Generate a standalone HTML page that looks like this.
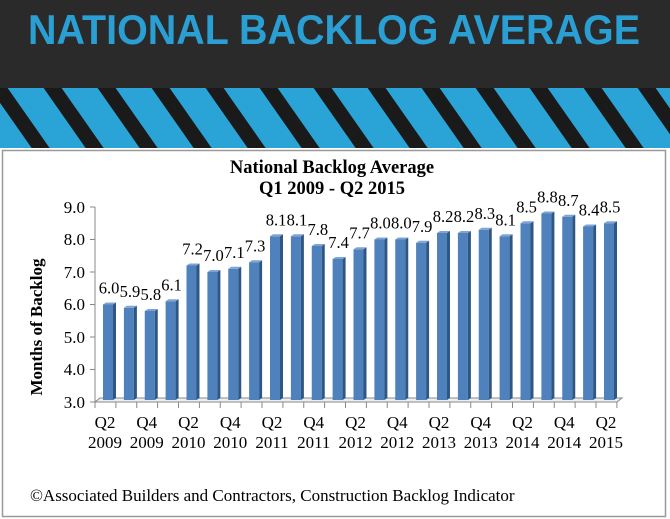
<!DOCTYPE html>
<html><head><meta charset="utf-8"><style>
html,body{margin:0;padding:0;background:#fff;}
</style></head><body>
<svg width="670" height="519" xmlns="http://www.w3.org/2000/svg" style="display:block">
<defs>
<pattern id="st" width="54" height="60" patternUnits="userSpaceOnUse" patternTransform="skewX(35)">
<rect width="54" height="60" fill="#1a1a1a"/>
<rect x="0" y="0" width="36" height="60" fill="#2aa3d6"/>
</pattern>
</defs>
<rect x="0" y="0" width="670" height="148" fill="#2a2a2a"/>
<rect x="0" y="88" width="670" height="60" fill="url(#st)"/>
<text x="334" y="44" text-anchor="middle" font-family="Liberation Sans, sans-serif" font-weight="bold" font-size="42" fill="#2a9fd4" textLength="612" lengthAdjust="spacingAndGlyphs">NATIONAL BACKLOG AVERAGE</text>
<rect x="2.5" y="150.5" width="663" height="366" fill="#fff" stroke="#999" stroke-width="1.5"/>
<g font-family="Liberation Serif, serif" fill="#000">
<text x="332" y="173" text-anchor="middle" font-weight="bold" font-size="18.5">National Backlog Average</text>
<text x="332" y="194" text-anchor="middle" font-weight="bold" font-size="18.5">Q1 2009 - Q2 2015</text>
<text x="30" y="501" font-size="17">©Associated Builders and Contractors, Construction Backlog Indicator</text>
<text transform="translate(42,327) rotate(-90)" text-anchor="middle" font-weight="bold" font-size="17">Months of Backlog</text>
<g font-size="17" text-anchor="end">
<text x="85" y="213">9.0</text><text x="85" y="245">8.0</text><text x="85" y="278">7.0</text><text x="85" y="310">6.0</text><text x="85" y="343">5.0</text><text x="85" y="375">4.0</text><text x="85" y="408">3.0</text>
</g>
</g>
<g stroke="#888" stroke-width="1" fill="none">
<line x1="95" y1="207" x2="95" y2="402"/>
<line x1="90" y1="207" x2="95" y2="207"/><line x1="90" y1="239.5" x2="95" y2="239.5"/><line x1="90" y1="272" x2="95" y2="272"/><line x1="90" y1="304.5" x2="95" y2="304.5"/><line x1="90" y1="337" x2="95" y2="337"/><line x1="90" y1="369.5" x2="95" y2="369.5"/><line x1="90" y1="402" x2="95" y2="402"/>
<path d="M95 402 L100 398 L622 398 L617 402 Z" fill="#eee"/>
<line x1="95" y1="402" x2="617" y2="402"/>
<line x1="95" y1="402" x2="95" y2="408"/><line x1="115.9" y1="402" x2="115.9" y2="408"/><line x1="136.75" y1="402" x2="136.75" y2="408"/><line x1="157.6" y1="402" x2="157.6" y2="408"/><line x1="178.5" y1="402" x2="178.5" y2="408"/><line x1="199.4" y1="402" x2="199.4" y2="408"/><line x1="220.25" y1="402" x2="220.25" y2="408"/><line x1="241.1" y1="402" x2="241.1" y2="408"/><line x1="262" y1="402" x2="262" y2="408"/><line x1="282.9" y1="402" x2="282.9" y2="408"/><line x1="303.75" y1="402" x2="303.75" y2="408"/><line x1="324.6" y1="402" x2="324.6" y2="408"/><line x1="345.5" y1="402" x2="345.5" y2="408"/><line x1="366.4" y1="402" x2="366.4" y2="408"/><line x1="387.25" y1="402" x2="387.25" y2="408"/><line x1="408.1" y1="402" x2="408.1" y2="408"/><line x1="429" y1="402" x2="429" y2="408"/><line x1="449.9" y1="402" x2="449.9" y2="408"/><line x1="470.75" y1="402" x2="470.75" y2="408"/><line x1="491.6" y1="402" x2="491.6" y2="408"/><line x1="512.5" y1="402" x2="512.5" y2="408"/><line x1="533.4" y1="402" x2="533.4" y2="408"/><line x1="554.25" y1="402" x2="554.25" y2="408"/><line x1="575.1" y1="402" x2="575.1" y2="408"/><line x1="596" y1="402" x2="596" y2="408"/><line x1="616.9" y1="402" x2="616.9" y2="408"/>
</g>
<g>
<g transform="translate(103,304.5)"><rect width="10" height="95.5" fill="#4f81bd"/><path d="M10 0 l3 -2 v95.5 l-3 2 z" fill="#2f5783"/><path d="M0 0 l3 -2 h10 l-3 2 z" fill="#7fa3d3"/></g>
<g transform="translate(123.9,307.75)"><rect width="10" height="92.25" fill="#4f81bd"/><path d="M10 0 l3 -2 v92.25 l-3 2 z" fill="#2f5783"/><path d="M0 0 l3 -2 h10 l-3 2 z" fill="#7fa3d3"/></g>
<g transform="translate(144.75,311)"><rect width="10" height="89" fill="#4f81bd"/><path d="M10 0 l3 -2 v89 l-3 2 z" fill="#2f5783"/><path d="M0 0 l3 -2 h10 l-3 2 z" fill="#7fa3d3"/></g>
<g transform="translate(165.6,301.25)"><rect width="10" height="98.75" fill="#4f81bd"/><path d="M10 0 l3 -2 v98.75 l-3 2 z" fill="#2f5783"/><path d="M0 0 l3 -2 h10 l-3 2 z" fill="#7fa3d3"/></g>
<g transform="translate(186.5,265.5)"><rect width="10" height="134.5" fill="#4f81bd"/><path d="M10 0 l3 -2 v134.5 l-3 2 z" fill="#2f5783"/><path d="M0 0 l3 -2 h10 l-3 2 z" fill="#7fa3d3"/></g>
<g transform="translate(207.4,272)"><rect width="10" height="128" fill="#4f81bd"/><path d="M10 0 l3 -2 v128 l-3 2 z" fill="#2f5783"/><path d="M0 0 l3 -2 h10 l-3 2 z" fill="#7fa3d3"/></g>
<g transform="translate(228.25,268.75)"><rect width="10" height="131.25" fill="#4f81bd"/><path d="M10 0 l3 -2 v131.25 l-3 2 z" fill="#2f5783"/><path d="M0 0 l3 -2 h10 l-3 2 z" fill="#7fa3d3"/></g>
<g transform="translate(249.1,262.25)"><rect width="10" height="137.75" fill="#4f81bd"/><path d="M10 0 l3 -2 v137.75 l-3 2 z" fill="#2f5783"/><path d="M0 0 l3 -2 h10 l-3 2 z" fill="#7fa3d3"/></g>
<g transform="translate(270,236.25)"><rect width="10" height="163.75" fill="#4f81bd"/><path d="M10 0 l3 -2 v163.75 l-3 2 z" fill="#2f5783"/><path d="M0 0 l3 -2 h10 l-3 2 z" fill="#7fa3d3"/></g>
<g transform="translate(290.9,236.25)"><rect width="10" height="163.75" fill="#4f81bd"/><path d="M10 0 l3 -2 v163.75 l-3 2 z" fill="#2f5783"/><path d="M0 0 l3 -2 h10 l-3 2 z" fill="#7fa3d3"/></g>
<g transform="translate(311.75,246)"><rect width="10" height="154" fill="#4f81bd"/><path d="M10 0 l3 -2 v154 l-3 2 z" fill="#2f5783"/><path d="M0 0 l3 -2 h10 l-3 2 z" fill="#7fa3d3"/></g>
<g transform="translate(332.6,259)"><rect width="10" height="141" fill="#4f81bd"/><path d="M10 0 l3 -2 v141 l-3 2 z" fill="#2f5783"/><path d="M0 0 l3 -2 h10 l-3 2 z" fill="#7fa3d3"/></g>
<g transform="translate(353.5,249.25)"><rect width="10" height="150.75" fill="#4f81bd"/><path d="M10 0 l3 -2 v150.75 l-3 2 z" fill="#2f5783"/><path d="M0 0 l3 -2 h10 l-3 2 z" fill="#7fa3d3"/></g>
<g transform="translate(374.4,239.5)"><rect width="10" height="160.5" fill="#4f81bd"/><path d="M10 0 l3 -2 v160.5 l-3 2 z" fill="#2f5783"/><path d="M0 0 l3 -2 h10 l-3 2 z" fill="#7fa3d3"/></g>
<g transform="translate(395.25,239.5)"><rect width="10" height="160.5" fill="#4f81bd"/><path d="M10 0 l3 -2 v160.5 l-3 2 z" fill="#2f5783"/><path d="M0 0 l3 -2 h10 l-3 2 z" fill="#7fa3d3"/></g>
<g transform="translate(416.1,242.75)"><rect width="10" height="157.25" fill="#4f81bd"/><path d="M10 0 l3 -2 v157.25 l-3 2 z" fill="#2f5783"/><path d="M0 0 l3 -2 h10 l-3 2 z" fill="#7fa3d3"/></g>
<g transform="translate(437,233)"><rect width="10" height="167" fill="#4f81bd"/><path d="M10 0 l3 -2 v167 l-3 2 z" fill="#2f5783"/><path d="M0 0 l3 -2 h10 l-3 2 z" fill="#7fa3d3"/></g>
<g transform="translate(457.9,233)"><rect width="10" height="167" fill="#4f81bd"/><path d="M10 0 l3 -2 v167 l-3 2 z" fill="#2f5783"/><path d="M0 0 l3 -2 h10 l-3 2 z" fill="#7fa3d3"/></g>
<g transform="translate(478.75,229.75)"><rect width="10" height="170.25" fill="#4f81bd"/><path d="M10 0 l3 -2 v170.25 l-3 2 z" fill="#2f5783"/><path d="M0 0 l3 -2 h10 l-3 2 z" fill="#7fa3d3"/></g>
<g transform="translate(499.6,236.25)"><rect width="10" height="163.75" fill="#4f81bd"/><path d="M10 0 l3 -2 v163.75 l-3 2 z" fill="#2f5783"/><path d="M0 0 l3 -2 h10 l-3 2 z" fill="#7fa3d3"/></g>
<g transform="translate(520.5,223.25)"><rect width="10" height="176.75" fill="#4f81bd"/><path d="M10 0 l3 -2 v176.75 l-3 2 z" fill="#2f5783"/><path d="M0 0 l3 -2 h10 l-3 2 z" fill="#7fa3d3"/></g>
<g transform="translate(541.4,213.5)"><rect width="10" height="186.5" fill="#4f81bd"/><path d="M10 0 l3 -2 v186.5 l-3 2 z" fill="#2f5783"/><path d="M0 0 l3 -2 h10 l-3 2 z" fill="#7fa3d3"/></g>
<g transform="translate(562.25,216.75)"><rect width="10" height="183.25" fill="#4f81bd"/><path d="M10 0 l3 -2 v183.25 l-3 2 z" fill="#2f5783"/><path d="M0 0 l3 -2 h10 l-3 2 z" fill="#7fa3d3"/></g>
<g transform="translate(583.1,226.5)"><rect width="10" height="173.5" fill="#4f81bd"/><path d="M10 0 l3 -2 v173.5 l-3 2 z" fill="#2f5783"/><path d="M0 0 l3 -2 h10 l-3 2 z" fill="#7fa3d3"/></g>
<g transform="translate(604,223.25)"><rect width="10" height="176.75" fill="#4f81bd"/><path d="M10 0 l3 -2 v176.75 l-3 2 z" fill="#2f5783"/><path d="M0 0 l3 -2 h10 l-3 2 z" fill="#7fa3d3"/></g>
</g>
<g font-family="Liberation Serif, serif" font-size="16.5" fill="#000" text-anchor="middle">
<text x="109" y="293.5">6.0</text><text x="129.9" y="296.75">5.9</text><text x="150.75" y="300">5.8</text><text x="171.6" y="290.25">6.1</text><text x="192.5" y="254.5">7.2</text><text x="213.4" y="261">7.0</text><text x="234.25" y="257.75">7.1</text><text x="255.1" y="251.25">7.3</text><text x="276" y="225.25">8.1</text><text x="296.9" y="225.25">8.1</text><text x="317.75" y="235">7.8</text><text x="338.6" y="248">7.4</text><text x="359.5" y="238.25">7.7</text><text x="380.4" y="228.5">8.0</text><text x="401.25" y="228.5">8.0</text><text x="422.1" y="231.75">7.9</text><text x="443" y="222">8.2</text><text x="463.9" y="222">8.2</text><text x="484.75" y="218.75">8.3</text><text x="505.6" y="225.25">8.1</text><text x="526.5" y="212.25">8.5</text><text x="547.4" y="202.5">8.8</text><text x="568.25" y="205.75">8.7</text><text x="589.1" y="215.5">8.4</text><text x="610" y="212.25">8.5</text>
</g>
<g font-family="Liberation Serif, serif" font-size="17" fill="#000" text-anchor="middle">
<text x="105" y="428">Q2</text><text x="105" y="448">2009</text>
<text x="146.75" y="428">Q4</text><text x="146.75" y="448">2009</text>
<text x="188.5" y="428">Q2</text><text x="188.5" y="448">2010</text>
<text x="230.25" y="428">Q4</text><text x="230.25" y="448">2010</text>
<text x="272" y="428">Q2</text><text x="272" y="448">2011</text>
<text x="313.75" y="428">Q4</text><text x="313.75" y="448">2011</text>
<text x="355.5" y="428">Q2</text><text x="355.5" y="448">2012</text>
<text x="397.25" y="428">Q4</text><text x="397.25" y="448">2012</text>
<text x="439" y="428">Q2</text><text x="439" y="448">2013</text>
<text x="480.75" y="428">Q4</text><text x="480.75" y="448">2013</text>
<text x="522.5" y="428">Q2</text><text x="522.5" y="448">2014</text>
<text x="564.25" y="428">Q4</text><text x="564.25" y="448">2014</text>
<text x="606" y="428">Q2</text><text x="606" y="448">2015</text>
</g>
</svg>
</body></html>
